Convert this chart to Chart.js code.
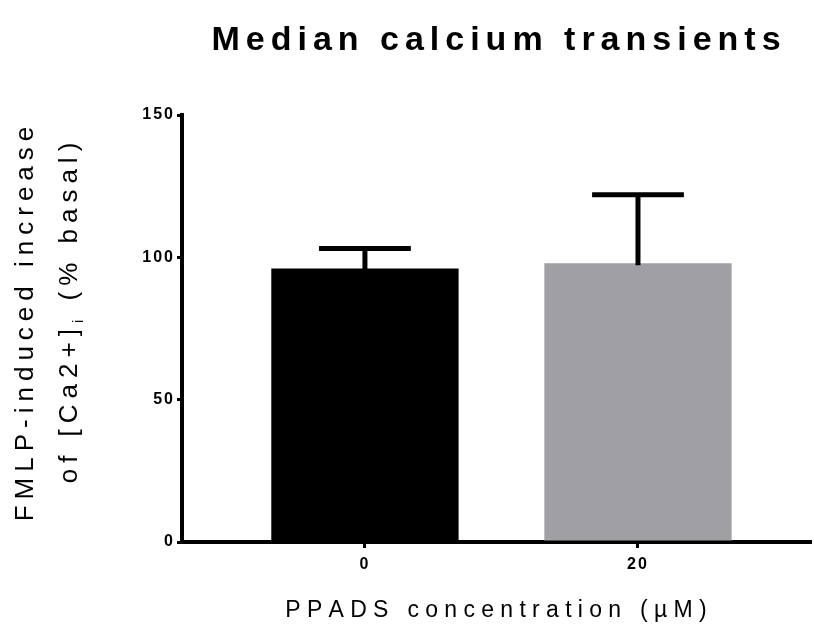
<!DOCTYPE html>
<html>
<head>
<meta charset="utf-8">
<script src="https://cdn.jsdelivr.net/npm/chart.js@4.4.1/dist/chart.umd.min.js"></script>
<style>
  html, body { margin: 0; padding: 0; background: #fff; }
  #wrap { width: 814px; height: 628px; }
</style>
</head>
<body>
<div id="wrap"><canvas id="calcium"></canvas></div>
<script>
/* data */
var categories = ['0', '20'];          // PPADS concentration (uM)
var xPos = [0, 1];
var medians = [96.1, 97.9];
var errUp = [7.0, 24.1];              // upper error only
var yTicks = [0, 50, 100, 150];
var barColors = ['#000000', '#a0a0a4'];

var FAMILY = '"Liberation Sans", Arial, Helvetica, sans-serif';

// draw text char by char so we get the wide Prism-style spacing
function spacedText(ctx, parts, x, y, ls) {
  var w = 0, i, j, p;
  for (i = 0; i < parts.length; i++) {
    p = parts[i];
    ctx.font = p.font;
    for (j = 0; j < p.t.length; j++) w += ctx.measureText(p.t[j]).width + ls;
  }
  w -= ls;
  var cx = x - w / 2;
  for (i = 0; i < parts.length; i++) {
    p = parts[i];
    ctx.font = p.font;
    for (j = 0; j < p.t.length; j++) {
      ctx.fillText(p.t[j], cx, y + (p.dy || 0));
      cx += ctx.measureText(p.t[j]).width + ls;
    }
  }
}

var spacing = {
  id: 'spacing',
  beforeLayout: function(chart) { chart.ctx.letterSpacing = '2px'; },
  beforeDraw: function(chart) { chart.ctx.letterSpacing = '2px'; }
};

var errorBars = {
  id: 'errorBars',
  afterDatasetsDraw: function(chart) {
    var ctx = chart.ctx;
    var meta = chart.getDatasetMeta(0);
    var ys = chart.scales.y;
    ctx.save();
    ctx.strokeStyle = '#000';
    ctx.lineWidth = 5;
    ctx.lineCap = 'butt';
    meta.data.forEach(function(bar, i) {
      var top = ys.getPixelForValue(medians[i] + errUp[i]);
      var half = bar.width * 0.245;
      ctx.beginPath();
      ctx.moveTo(bar.x, bar.y + 2);
      ctx.lineTo(bar.x, top);
      ctx.moveTo(bar.x - half, top);
      ctx.lineTo(bar.x + half, top);
      ctx.stroke();
    });
    ctx.restore();
  }
};

var titles = {
  id: 'titles',
  afterDraw: function(chart) {
    var ctx = chart.ctx;
    var a = chart.chartArea;
    var mid = (a.left + a.right) / 2;
    ctx.save();
    ctx.letterSpacing = '0px';
    ctx.fillStyle = '#000';
    ctx.textBaseline = 'alphabetic';
    ctx.textAlign = 'left';

    spacedText(ctx, [{ t: 'Median calcium transients', font: 'bold 34px ' + FAMILY }], mid, 50, 6);
    spacedText(ctx, [{ t: 'PPADS concentration (\u00b5M)', font: '23px ' + FAMILY }], mid, 617, 6.3);

    var f = '26px ' + FAMILY;
    ctx.save();
    ctx.translate(33, 324);
    ctx.rotate(-Math.PI / 2);
    spacedText(ctx, [{ t: 'FMLP-induced increase', font: f }], 0, 0, 6);
    ctx.restore();

    ctx.save();
    ctx.translate(77, 313);
    ctx.rotate(-Math.PI / 2);
    spacedText(ctx, [
      { t: 'of [Ca2+]', font: f },
      { t: 'i', font: '15px ' + FAMILY, dy: 6 },
      { t: ' (% basal)', font: f }
    ], 0, 0, 6);
    ctx.restore();

    ctx.restore();
  }
};

var chart = new Chart(document.getElementById('calcium'), {
  type: 'bar',
  data: {
    datasets: [{
      data: xPos.map(function(x, i) { return { x: x, y: medians[i] }; }),
      backgroundColor: barColors,
      borderWidth: 0,
      barPercentage: 0.686,
      categoryPercentage: 1
    }]
  },
  options: {
    responsive: true,
    maintainAspectRatio: false,
    animation: false,
    layout: { padding: { top: 115, right: 4, bottom: 0, left: 0 } },
    plugins: {
      legend: { display: false },
      tooltip: { enabled: false },
      title: { display: false }
    },
    scales: {
      x: {
        type: 'linear',
        offset: false,
        min: -0.67,
        max: 1.63,
        afterBuildTicks: function(s) { s.ticks = xPos.map(function(v) { return { value: v }; }); },
        afterFit: function(s) { s.height = 86; },
        grid: { display: true, offset: false, drawOnChartArea: false, drawTicks: true, tickLength: 6, color: '#000', lineWidth: 3 },
        border: { display: true, color: '#000', width: 4 },
        ticks: {
          color: '#000',
          padding: 7,
          maxRotation: 0,
          font: { family: FAMILY, size: 16, weight: 'bold' },
          callback: function(v) { return categories[v]; }
        }
      },
      y: {
        min: 0,
        max: 150,
        afterBuildTicks: function(s) { s.ticks = yTicks.map(function(v) { return { value: v }; }); },
        afterFit: function(s) { s.width = 182; },
        grid: { display: true, drawOnChartArea: false, drawTicks: true, tickLength: 5, color: '#000', lineWidth: 3 },
        border: { display: true, color: '#000', width: 4 },
        ticks: {
          color: '#000',
          padding: 2,
          font: { family: FAMILY, size: 16, weight: 'bold' }
        }
      }
    }
  },
  plugins: [spacing, errorBars, titles]
});
</script>
</body>
</html>
